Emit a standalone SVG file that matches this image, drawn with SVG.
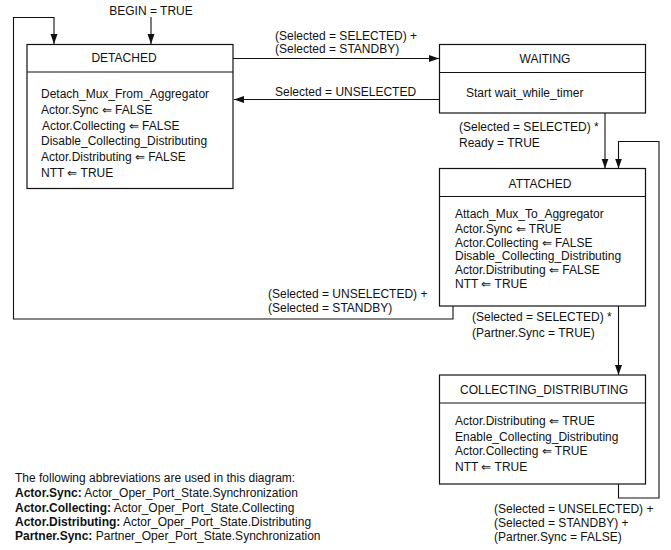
<svg xmlns="http://www.w3.org/2000/svg" width="671" height="550" viewBox="0 0 671 550">
<defs>
<style>
text{font-family:"Liberation Sans",Arial,sans-serif;font-size:12px;fill:#111}
.box{fill:#fff;stroke:#111;stroke-width:1.2}
.sep{stroke:#111;stroke-width:1.2}
.c{fill:none;stroke:#111;stroke-width:1.1}
.t{text-anchor:middle}
.b{font-weight:bold}
</style>
<marker id="ah" markerWidth="10" markerHeight="8" refX="10" refY="3.5" orient="auto" markerUnits="userSpaceOnUse">
<path d="M0,0 L10,3.5 L0,7 z" fill="#111"/>
</marker>
</defs>
<rect width="671" height="550" fill="#fff"/>
<g id="connectors">
<path class="c" d="M151,17 V44" marker-end="url(#ah)"/>
<path class="c" d="M453,306 V319 H13.5 V17.5 H54 V44" marker-end="url(#ah)"/>
<path class="c" d="M233,58.5 H439" marker-end="url(#ah)"/>
<path class="c" d="M439,99.5 H234" marker-end="url(#ah)"/>
<path class="c" d="M605,113 V168.5" marker-end="url(#ah)"/>
<path class="c" d="M618.5,306 V375" marker-end="url(#ah)"/>
<path class="c" d="M618.5,484 V498 H659 V141.5 H618.5 V168.5" marker-end="url(#ah)"/>
<text x="151" y="15" class="t">BEGIN = TRUE</text>
<text x="275" y="40">(Selected = SELECTED) +</text>
<text x="275" y="53">(Selected = STANDBY)</text>
<text x="275" y="96">Selected = UNSELECTED</text>
<text x="459" y="131">(Selected = SELECTED) *</text>
<text x="459" y="147">Ready = TRUE</text>
<text x="268" y="298">(Selected = UNSELECTED) +</text>
<text x="268" y="312">(Selected = STANDBY)</text>
<text x="472" y="321">(Selected = SELECTED) *</text>
<text x="472" y="337">(Partner.Sync = TRUE)</text>
<text x="494" y="512.5">(Selected = UNSELECTED) +</text>
<text x="494" y="527">(Selected = STANDBY) +</text>
<text x="494" y="540.5">(Partner.Sync = FALSE)</text>
</g>
<g id="detached">
<rect class="box" x="27" y="44.5" width="206" height="144"/>
<line class="sep" x1="27" y1="72" x2="233" y2="72"/>
<text x="124" y="62" class="t">DETACHED</text>
<text x="41" y="98">Detach_Mux_From_Aggregator</text>
<text x="41" y="114">Actor.Sync ⇐ FALSE</text>
<text x="42" y="130">Actor.Collecting ⇐ FALSE</text>
<text x="41" y="145">Disable_Collecting_Distributing</text>
<text x="41" y="160.5">Actor.Distributing ⇐ FALSE</text>
<text x="41" y="176.5">NTT ⇐ TRUE</text>
</g>
<g id="waiting">
<rect class="box" x="439.5" y="44.5" width="206" height="68.5"/>
<line class="sep" x1="439.5" y1="72.5" x2="645.5" y2="72.5"/>
<text x="545" y="63" class="t">WAITING</text>
<text x="466" y="96.5">Start wait_while_timer</text>
</g>
<g id="attached">
<rect class="box" x="439.5" y="168.5" width="206" height="137.5"/>
<line class="sep" x1="439.5" y1="196.5" x2="645.5" y2="196.5"/>
<text x="540" y="188" class="t">ATTACHED</text>
<text x="455" y="217.5">Attach_Mux_To_Aggregator</text>
<text x="455" y="232.5">Actor.Sync ⇐ TRUE</text>
<text x="455" y="247">Actor.Collecting ⇐ FALSE</text>
<text x="455" y="259.5">Disable_Collecting_Distributing</text>
<text x="455" y="273.5">Actor.Distributing ⇐ FALSE</text>
<text x="455" y="288">NTT ⇐ TRUE</text>
</g>
<g id="collecting_distributing">
<rect class="box" x="439.5" y="375" width="206" height="109"/>
<line class="sep" x1="439.5" y1="403" x2="645.5" y2="403"/>
<text x="544" y="394" class="t">COLLECTING_DISTRIBUTING</text>
<text x="455" y="425">Actor.Distributing ⇐ TRUE</text>
<text x="455" y="441">Enable_Collecting_Distributing</text>
<text x="455" y="455">Actor.Collecting ⇐ TRUE</text>
<text x="455" y="471">NTT ⇐ TRUE</text>
</g>
<g id="legend">
<text x="15" y="482">The following abbreviations are used in this diagram:</text>
<text x="15" y="497"><tspan class="b">Actor.Sync:</tspan> Actor_Oper_Port_State.Synchronization</text>
<text x="15" y="511.5"><tspan class="b">Actor.Collecting:</tspan> Actor_Oper_Port_State.Collecting</text>
<text x="15" y="525.5"><tspan class="b">Actor.Distributing:</tspan> Actor_Oper_Port_State.Distributing</text>
<text x="15" y="540"><tspan class="b">Partner.Sync:</tspan> Partner_Oper_Port_State.Synchronization</text>
</g>
</svg>
